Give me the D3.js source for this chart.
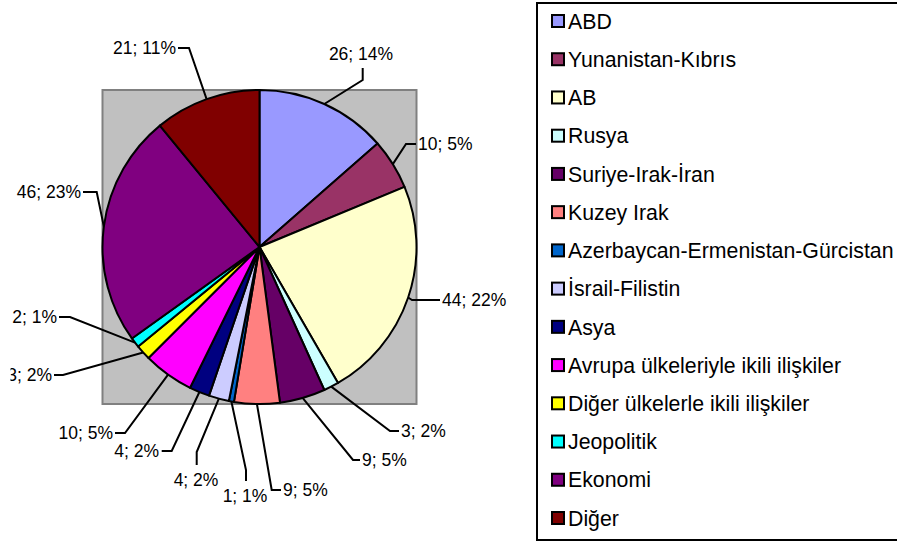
<!DOCTYPE html>
<html><head><meta charset="utf-8">
<script src="https://cdn.jsdelivr.net/npm/d3@7"></script>
<style>html,body{margin:0;padding:0;background:#fff;} svg{display:block;}</style>
</head><body>
<svg id="c" width="897" height="542"></svg>
<script>
const categories = ["ABD","Yunanistan-Kıbrıs","AB","Rusya","Suriye-Irak-İran","Kuzey Irak","Azerbaycan-Ermenistan-Gürcistan","İsrail-Filistin","Asya","Avrupa ülkeleriyle ikili ilişkiler","Diğer ülkelerle ikili ilişkiler","Jeopolitik","Ekonomi","Diğer"];
const values = [26,10,44,3,9,9,1,4,4,10,3,2,46,21];
const percentLabels = ["14%","5%","22%","2%","5%","5%","1%","2%","2%","5%","2%","1%","23%","11%"];
const colors = ["#9999FF","#993366","#FFFFCC","#CCFFFF","#660066","#FF8080","#0066CC","#CCCCFF","#000080","#FF00FF","#FFFF00","#00FFFF","#800080","#800000"];

// label layout: text anchor point, elbow point, anchor type
const labelLayout = [
  {tx:361, ty:54, ex:362.7, ey:80, ex2:362.7, ey2:68, anchor:"middle"},
  {tx:418, ty:144, ex:406, ey:144, ex2:416, ey2:144, anchor:"start"},
  {tx:442, ty:300, ex:412, ey:300, ex2:440, ey2:300, anchor:"start"},
  {tx:401, ty:431, ex:390, ey:431, ex2:399, ey2:431, anchor:"start"},
  {tx:362, ty:460, ex:353, ey:460, ex2:360, ey2:460, anchor:"start"},
  {tx:283, ty:490, ex:271.7, ey:490, ex2:281, ey2:490, anchor:"start"},
  {tx:245, ty:496, ex:246, ey:470, ex2:246, ey2:481, anchor:"middle"},
  {tx:196, ty:480, ex:196.7, ey:452, ex2:196.7, ey2:465, anchor:"middle"},
  {tx:159, ty:451, ex:171.7, ey:451, ex2:161.7, ey2:451, anchor:"end"},
  {tx:113, ty:433, ex:125, ey:433, ex2:115, ey2:433, anchor:"end"},
  {tx:52, ty:375, ex:63, ey:375, ex2:54, ey2:375, anchor:"end"},
  {tx:57, ty:317, ex:70, ey:317, ex2:59, ey2:317, anchor:"end"},
  {tx:81, ty:192, ex:96.7, ey:192, ex2:83, ey2:192, anchor:"end"},
  {tx:176, ty:48, ex:189, ey:48, ex2:178, ey2:48, anchor:"end"}
];

const svg = d3.select("#c");
const font = "'Liberation Sans', Arial, sans-serif";
const cx = 259.5, cy = 247, r = 157;

svg.append("defs").append("clipPath").attr("id","chartClip")
  .append("rect").attr("x", 10.5).attr("y", 0).attr("width", 525).attr("height", 542);

// plot area
svg.append("rect").attr("x", cx - r).attr("y", cy - r).attr("width", 2*r).attr("height", 2*r)
  .attr("fill", "#C0C0C0").attr("stroke", "#808080").attr("stroke-width", 2);

const data = categories.map((c,i)=>({cat:c, value:values[i], pct:percentLabels[i], color:colors[i], i}));
const pie = d3.pie().value(d=>d.value).sort(null);
const arcs = pie(data);
const arc = d3.arc().innerRadius(0).outerRadius(r);

const g = svg.append("g").attr("transform", `translate(${cx},${cy})`);
g.selectAll("path.slice").data(arcs).enter().append("path")
  .attr("d", arc).attr("fill", d=>d.data.color)
  .attr("stroke", "#000").attr("stroke-width", 2).attr("stroke-linejoin","round");

// labels
const lab = svg.append("g").attr("clip-path","url(#chartClip)");
arcs.forEach((a,i)=>{
  const L = labelLayout[i];
  const mid = (a.startAngle + a.endAngle)/2;
  const px = cx + r*Math.sin(mid), py = cy - r*Math.cos(mid);
  lab.append("polyline")
    .attr("points", `${px},${py} ${L.ex},${L.ey} ${L.ex2},${L.ey2}`)
    .attr("fill","none").attr("stroke","#000").attr("stroke-width",2);
  lab.append("text").attr("x", L.tx).attr("y", L.ty).attr("dy","0.35em")
    .attr("text-anchor", L.anchor)
    .attr("font-family", font).attr("font-size", 17.5).attr("fill","#000")
    .text(`${a.data.value}; ${a.data.pct}`);
});

// legend
const lg = svg.append("g");
lg.append("rect").attr("x", 537).attr("y", 3).attr("width", 380).attr("height", 537)
  .attr("fill","#fff").attr("stroke","#000").attr("stroke-width",2);
const ly = d3.scalePoint().domain(categories).range([21, 518]);
categories.forEach((c,i)=>{
  const y = ly(c);
  lg.append("rect").attr("x", 552).attr("y", y-6).attr("width", 12).attr("height", 12)
    .attr("fill", colors[i]).attr("stroke","#000").attr("stroke-width",2);
  lg.append("text").attr("x", 568).attr("y", y).attr("dy","0.36em")
    .attr("font-family", font).attr("font-size", 21.3).attr("fill","#000").text(c);
});
</script>
</body></html>
